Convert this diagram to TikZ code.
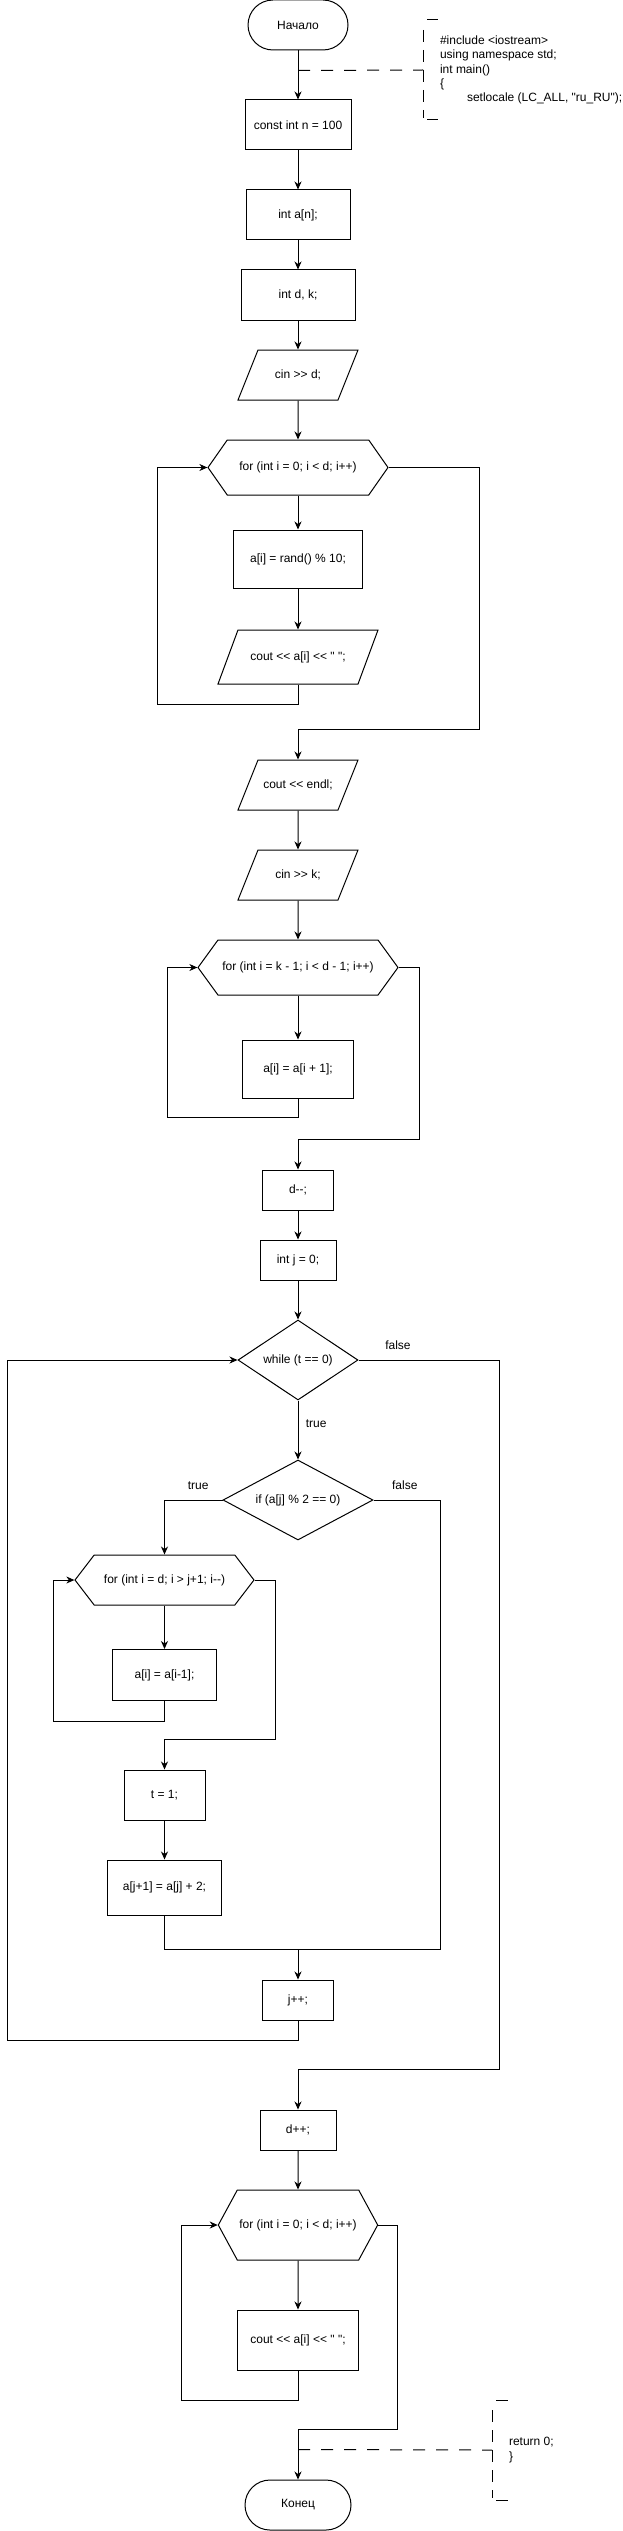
\documentclass[tikz,border=0pt]{standalone}
\usepackage{fontspec}
\newfontfamily\flowfont{Liberation Sans}
\usepackage{tikz}
\usetikzlibrary{arrows.meta,shapes.geometric,shapes.symbols}
\usetikzlibrary{positioning}
\tikzset{
    block/.style={
           rectangle,
           draw=black,
           minimum height=50pt,
           inner sep=2pt,
           text centered,
           },
    terminal/.style={block, rounded corners=25pt, minimum width=100pt},
    io/.style={
           trapezium,
           trapezium left angle=68.2,
           trapezium right angle=111.8,
           trapezium stretches body=true,
           draw=black,
           text height=9pt, text depth=3pt,
           inner xsep=2pt, inner ysep=19pt,
           minimum width=120pt,
           minimum height=50pt,
           },
    loopbox/.style={
           signal,
           signal to=east and west,
           draw=black,
           minimum height=55pt,
           inner sep=2pt,
           },
    decision/.style={diamond, draw=black, aspect=1.5, inner sep=0pt, minimum height=80pt},
    note/.style={rectangle, align=left, minimum height=100pt, inner xsep=17pt, outer sep=0pt},
    notelink/.style={-, dash pattern=on 12pt off 11pt},
    notebar/.style={-, dash pattern=on 12pt off 8pt},
    notetick/.style={-},
}
\begin{document}
\begin{tikzpicture}[->,>={Stealth[length=8pt,width=7pt,inset=2.5pt]},
  x=1pt, y=1pt, line width=1pt, font=\flowfont\fontsize{12pt}{14.4pt}\selectfont]

 \useasboundingbox (0,0) rectangle (622,-2531);

 % main column, top part
 \node[terminal] (start) at (298,-25) {Начало};
 \node[block, below of=start, node distance=100, minimum width=106] (constn) {const int n = 100};
 \node[block, below of=constn, node distance=90, minimum width=104] (arr) {int a[n];};
 \node[block, below of=arr, node distance=80, minimum width=114] (vars) {int d, k;};
 \node[io, below of=vars, node distance=80] (ind) {cin >> d;};

 % first loop: fill the array
 \node[loopbox, below of=ind, node distance=92.5, minimum width=180, signal pointer angle=110] (fill)
  {for (int i = 0; i < d; i++)};
 \node[block, below of=fill, node distance=91.5, minimum width=129, minimum height=58] (rnd)
  {a[i] = rand() \% 10;};
 \node[io, below of=rnd, node distance=98, minimum width=160, minimum height=54, inner ysep=21pt,
  trapezium left angle=69.7, trapezium right angle=110.3] (outa)
  {cout << a[i] << " ";};
 \node[io, below of=outa, node distance=128] (endl) {cout << endl;};
 \node[io, below of=endl, node distance=90] (ink) {cin >> k;};

 % second loop: remove element k
 \node[loopbox, below of=ink, node distance=92.5, minimum width=200, signal pointer angle=108] (shiftloop)
  {for (int i = k - 1; i < d - 1; i++)};
 \node[block, below of=shiftloop, node distance=101.5, minimum width=111, minimum height=58] (shift)
  {a[i] = a[i + 1];};
 \node[block, below of=shift, node distance=121, minimum width=71, minimum height=40] (decd) {d-{}-;};
 \node[block, below of=decd, node distance=70, minimum width=76, minimum height=40] (initj) {int j = 0;};

 % while loop with the insertion
 \node[decision, below of=initj, node distance=100, minimum width=120] (whilet) {while (t == 0)};
 \node[decision, below of=whilet, node distance=140, minimum width=150, aspect=1.9] (ifeven)
  {if (a[j] \% 2 == 0)};
 \node[loopbox, below of=ifeven, node distance=80, xshift=-133.5,
  minimum width=179, minimum height=50, signal pointer angle=105] (insloop)
  {for (int i = d; i > j+1; i-{}-)};
 \node[block, below of=insloop, node distance=95, minimum width=104, minimum height=51] (insshift)
  {a[i] = a[i-1];};
 \node[block, below of=insshift, node distance=120, minimum width=81] (sett) {t = 1;};
 \node[block, below of=sett, node distance=92.5, minimum width=114, minimum height=55] (setnext)
  {a[j+1] = a[j] + 2;};
 \node[block, below of=setnext, node distance=112.5, xshift=133.5, minimum width=71, minimum height=40] (incj)
  {j++;};

 % output and end
 \node[block, below of=incj, node distance=130, minimum width=76, minimum height=40] (incd) {d++;};
 \node[loopbox, below of=incd, node distance=95, minimum width=150, minimum height=70, signal pointer angle=123] (outloop)
  {for (int i = 0; i < d; i++)};
 \node[block, below of=outloop, node distance=115, minimum width=121, minimum height=60] (outb)
  {cout << a[i] << " ";};
 \node[terminal, below of=outb, node distance=165, minimum width=106] (stop) {Конец};

 % comments
 \node[note, right of=start, node distance=125, yshift=-45, anchor=west] (note1)
  {\#include <iostream>\\using namespace std;\\int main()\\\{\\\hspace*{27pt}setlocale (LC\_ALL, "ru\_RU");};
 \node[note, right of=stop, node distance=194, yshift=55, anchor=west] (note2)
  {return 0;\\\}};

 \coordinate (tap1) at ([yshift=-20]start.south);
 \coordinate (tap2) at ([yshift=30]stop.north);
 \coordinate (join) at ([yshift=30]incj.north);

 % straight arrows
 \path[->] (start) edge (constn)
 (constn)    edge (arr)
 (arr)       edge (vars)
 (vars)      edge (ind)
 (ind)       edge (fill)
 (fill)      edge (rnd)
 (rnd)       edge (outa)
 (endl)      edge (ink)
 (ink)       edge (shiftloop)
 (shiftloop) edge (shift)
 (decd)      edge (initj)
 (initj)     edge (whilet)
 (whilet)    edge node[right=4pt, pos=0.4] {true} (ifeven)
 (insloop)   edge (insshift)
 (sett)      edge (setnext)
 (incd)      edge (outloop)
 (outloop)   edge (outb);

 % loops back and exits
 \draw (outa.south) -- ++(0,-20) -| ([xshift=-50]fill.west) -- (fill.west);
 \draw (fill.east) -- ++(91,0) |- ([yshift=30]endl.north) -- (endl.north);
 \draw (shift.south) -- ++(0,-19) -| ([xshift=-29.5]shiftloop.west) -- (shiftloop.west);
 \draw (shiftloop.east) -- ++(21,0) |- ([yshift=30]decd.north) -- (decd.north);
 \draw (whilet.east) -- node[above=7pt, pos=0.28] {false} ++(141,0) |- ([yshift=40]incd.north) -- (incd.north);
 \draw (ifeven.west) -| node[above=7pt, pos=0.21] {true} (insloop.north);
 \draw[-] (ifeven.east) -- node[above=7pt, pos=0.47] {false} ++(66.5,0) |- (join);
 \draw (insshift.south) -- ++(0,-20) -| ([xshift=-21]insloop.west) -- (insloop.west);
 \draw (insloop.east) -- ++(20.5,0) |- ([yshift=30]sett.north) -- (sett.north);
 \draw[-] (setnext.south) |- (join);
 \draw (join) -- (incj.north);
 \draw (incj.south) -- ++(0,-20) -| ([xshift=-230.4]whilet.west) -- (whilet.west);
 \draw (outb.south) -- ++(0,-30) -| ([xshift=-36]outloop.west) -- (outloop.west);
 \draw (outloop.east) -- ++(19,0) |- ([yshift=50]stop.north) -- (stop.north);

 % comment brackets
 \draw[notelink] (tap1) -- (note1.west);
 \draw[notetick] ([xshift=4]note1.north west) -- ++(11,0) ([xshift=4]note1.south west) -- ++(11,0);
 \draw[notebar] ([yshift=-10]note1.north west) -- ([yshift=2]note1.south west);
 \draw[notelink] (tap2) -- (note2.west);
 \draw[notetick] ([xshift=4]note2.north west) -- ++(12,0) ([xshift=4]note2.south west) -- ++(12,0);
 \draw[notebar] ([yshift=-10]note2.north west) -- ([yshift=2]note2.south west);

\end{tikzpicture}
\end{document}
